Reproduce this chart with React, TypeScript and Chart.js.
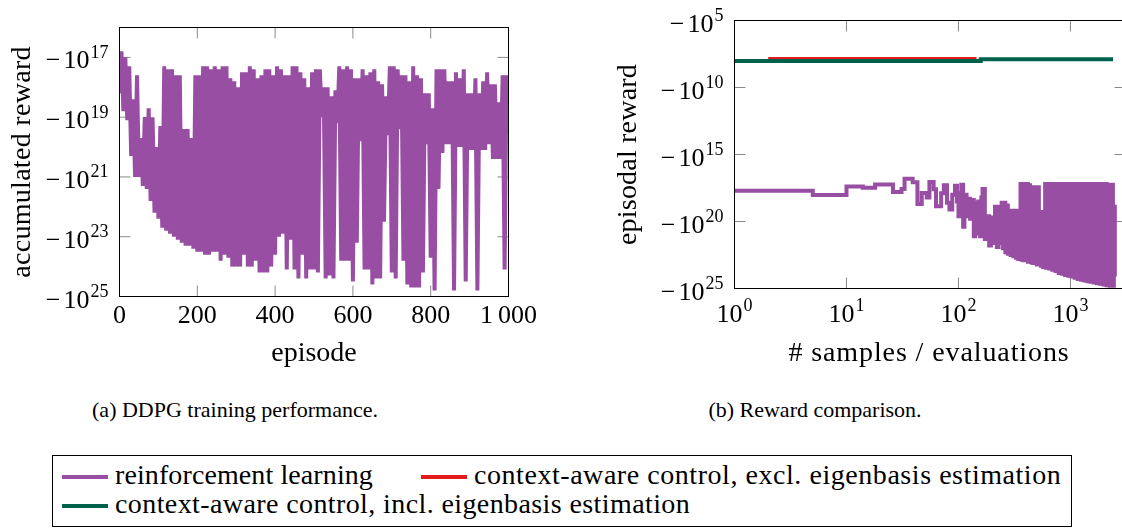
import React, { useEffect, useRef } from "react";
import { Chart, registerables } from "chart.js";

Chart.register(...registerables);

const FONT = '"Liberation Serif", "Times New Roman", serif';
const PURPLE = "#984ea3";
const RED = "#e41a1c";
const GREEN = "#00614c";

// ---------------- (a) DDPG training performance ----------------
// log10 of |accumulated reward| (the reward itself is negative), one value every 5 episodes
const EPISODE_STEP = 5;
const rlRewardEp000 = [
  18.2, 16.8, 18.8, 17.0, 19.1, 17.3, 20.3, 18.4, 21.0, 17.6,
  21.0, 19.7, 21.3, 19.0, 21.4, 18.7, 21.8, 19.0, 22.2, 20.0,
  22.4, 19.3, 22.7, 17.3, 22.8, 17.4, 22.9, 17.4, 23.0, 17.6,
  23.1, 17.6, 23.2, 19.4, 23.3, 19.4, 23.3, 19.7, 23.4, 17.6,
];
const rlRewardEp200 = [
  23.5, 17.6, 23.5, 17.3, 23.6, 17.3, 23.6, 17.4, 23.5, 17.3,
  23.5, 17.4, 23.8, 17.3, 23.6, 17.3, 23.7, 17.7, 24.0, 17.8,
  24.0, 18.0, 24.0, 17.5, 23.6, 17.5, 24.0, 17.3, 24.0, 17.4,
  23.8, 17.7, 24.2, 17.6, 24.2, 17.4, 24.2, 17.4, 24.0, 17.6,
];
const rlRewardEp400 = [
  23.6, 17.3, 23.0, 17.4, 22.9, 17.6, 24.1, 17.6, 23.1, 17.3,
  24.1, 17.3, 24.4, 17.5, 23.6, 17.7, 24.4, 18.0, 24.1, 17.5,
  24.1, 17.4, 24.2, 17.4, 19.0, 18.0, 24.4, 18.0, 24.3, 18.3,
  24.4, 18.1, 19.2, 17.3, 23.8, 17.4, 23.8, 17.3, 23.8, 17.4,
];
const rlRewardEp600 = [
  24.5, 17.7, 23.2, 17.7, 19.8, 17.4, 24.1, 17.6, 24.1, 17.5,
  24.6, 17.4, 24.4, 17.8, 24.4, 17.9, 22.5, 18.3, 19.6, 17.3,
  24.2, 17.3, 24.4, 17.4, 19.4, 17.6, 23.8, 17.6, 24.6, 17.8,
  24.7, 17.3, 24.7, 17.6, 24.7, 17.7, 24.2, 18.2, 19.9, 18.2,
];
const rlRewardEp800 = [
  23.7, 18.7, 24.8, 17.4, 21.4, 17.4, 20.2, 17.4, 19.9, 17.8,
  19.9, 17.8, 24.8, 17.5, 20.0, 17.7, 20.0, 17.4, 24.5, 18.2,
  20.1, 18.2, 20.1, 17.7, 24.8, 18.2, 20.1, 17.8, 20.1, 17.5,
  19.9, 17.9, 20.4, 17.9, 20.4, 18.5, 20.4, 17.6, 24.1, 17.6,
  19.6,
];
const rlAccumulatedLog = [
  ...rlRewardEp000, ...rlRewardEp200, ...rlRewardEp400, ...rlRewardEp600, ...rlRewardEp800,
];
const aXTicks = [0, 200, 400, 600, 800, 1000];
const aXTickLabels = ["0", "200", "400", "600", "800", "1\u2009000"];
const aYTickExps = [17, 19, 21, 23, 25];

// ---------------- (b) Reward comparison ----------------
// log10 of |episodal reward| against number of samples / evaluations (step plot)
const rlSamples = [
  1, 5, 10, 14, 18, 26, 31, 33, 39, 43,
  47, 52, 55, 60, 63, 70, 74, 79, 83, 88,
  93, 97, 100, 103, 106, 110, 113, 118, 121, 127,
  131, 137, 141, 146, 150, 156, 160, 164, 172, 180,
  188, 195, 205, 212, 220, 228, 236, 243, 250, 256,
  262, 269, 276, 283, 292, 300, 310, 318, 326, 334,
  342, 350, 358, 366, 374, 382, 390, 399, 408, 417,
  426, 435, 444, 452, 461, 470, 480, 490, 500, 511,
  522, 534, 546, 558, 570, 582, 594, 606, 625, 645,
  665, 688, 710, 735, 760, 785, 810, 838, 866, 895,
  925, 956, 988, 1020, 1055, 1090, 1126, 1163, 1202, 1242,
  1284, 1327, 1371, 1417, 1464, 1513, 1563, 1615, 1669, 1725,
  1782, 1842, 1903, 1967, 2032, 2100, 2170, 2242, 2317, 2394,
  2440, 2490,
];
const rlEpisodalLog = [
  17.70, 18.02, 17.38, 17.48, 17.23, 17.80, 17.58, 16.81, 17.08, 18.69,
  17.87, 18.20, 17.05, 17.60, 18.87, 17.90, 17.30, 18.60, 19.11, 18.00,
  17.33, 18.50, 19.60, 17.90, 17.25, 20.40, 18.00, 19.60, 18.30, 19.80,
  18.40, 21.10, 18.60, 20.90, 18.50, 21.10, 18.20, 17.57, 21.30, 19.60,
  21.80, 19.70, 21.60, 18.90, 21.90, 18.90, 21.60, 18.60, 22.00, 18.60,
  22.30, 18.80, 22.40, 19.20, 22.50, 19.20, 22.60, 19.30, 22.70, 19.20,
  22.80, 19.40, 17.20, 22.85, 17.20, 22.90, 17.25, 22.90, 17.20, 23.00,
  17.30, 19.50, 23.05, 17.45, 23.10, 17.45, 23.10, 17.45, 23.20, 17.45,
  23.20, 19.30, 23.30, 19.30, 23.40, 19.30, 17.20, 23.45, 17.20, 23.50,
  17.20, 23.60, 17.20, 23.70, 17.20, 23.85, 17.20, 23.90, 17.20, 24.00,
  17.20, 24.05, 17.20, 24.10, 17.20, 24.20, 17.20, 24.30, 17.20, 24.35,
  17.20, 24.40, 17.20, 24.45, 17.20, 24.50, 17.20, 24.55, 17.20, 24.60,
  17.20, 24.65, 17.20, 24.70, 17.20, 24.75, 17.25, 24.80, 17.25, 24.80,
  18.90, 24.10,
];
const exclSamples = [2, 145];
const exclEpisodalLog = [7.88, 7.88];
const inclSamples = [1, 158, 2400];
const inclEpisodalLog = [8.03, 7.9, 7.9];
const bXTickExps = [0, 1, 2, 3];
const bYTickExps = [5, 10, 15, 20, 25];

// ---------------- text / styling ----------------
const TICK_PX = 26;
const SUP_PX = 18;
const SUP_RAISE = 10.5;
const MINUS_GAP = 3;
const SUP_GAP = 1;
const TITLE_PX = 28;
const TICK_LEN = 11;

type Pow = { minus?: boolean; base: string; sup?: string };

function drawPow(ctx: CanvasRenderingContext2D, p: Pow, x: number, baseline: number, align: "right" | "center") {
  const baseFont = `${TICK_PX}px ${FONT}`;
  const supFont = `${SUP_PX}px ${FONT}`;
  ctx.font = baseFont;
  const mW = p.minus ? ctx.measureText("\u2212").width + MINUS_GAP : 0;
  const bW = ctx.measureText(p.base).width;
  ctx.font = supFont;
  const sW = p.sup ? ctx.measureText(p.sup).width + SUP_GAP : 0;
  const total = mW + bW + sW;
  const x0 = align === "right" ? x - total : x - total / 2;
  ctx.textAlign = "left";
  ctx.textBaseline = "alphabetic";
  ctx.fillStyle = "#000";
  ctx.font = baseFont;
  if (p.minus) ctx.fillText("\u2212", x0, baseline);
  ctx.fillText(p.base, x0 + mW, baseline);
  if (p.sup) {
    ctx.font = supFont;
    ctx.fillText(p.sup, x0 + mW + bW + SUP_GAP, baseline - SUP_RAISE);
  }
}

type AxisSpec = {
  xTicks: number[];
  xLabels: Pow[];
  xTickBaseline: number;
  yTicks: number[];
  yLabels: Pow[];
  xTitle: string;
  xTitleBaseline: number;
  xTitleCenter: number;
  xTitleSpacing: number;
  yTitle: string;
  yTitleX: number;
  yTitleSpacing: number;
};

function pgfAxes(spec: AxisSpec) {
  return {
    id: "pgfAxes",
    beforeDatasetsDraw(chart: any) {
      const { ctx, chartArea: a, scales } = chart;
      ctx.save();
      ctx.strokeStyle = "#8a8a8a";
      ctx.lineWidth = 1;
      ctx.beginPath();
      spec.yTicks.forEach((v) => {
        const y = scales.y.getPixelForValue(v);
        ctx.moveTo(a.left, y);
        ctx.lineTo(a.left + TICK_LEN, y);
        ctx.moveTo(a.right, y);
        ctx.lineTo(a.right - TICK_LEN, y);
      });
      spec.xTicks.forEach((v) => {
        const x = scales.x.getPixelForValue(v);
        ctx.moveTo(x, a.bottom);
        ctx.lineTo(x, a.bottom - TICK_LEN);
        ctx.moveTo(x, a.top);
        ctx.lineTo(x, a.top + TICK_LEN);
      });
      ctx.stroke();
      ctx.restore();
    },
    afterDatasetsDraw(chart: any) {
      const { ctx, chartArea: a, scales } = chart;
      ctx.save();
      ctx.strokeStyle = "#000";
      ctx.lineWidth = 1;
      ctx.strokeRect(a.left, a.top, a.right - a.left, a.bottom - a.top);
      spec.yTicks.forEach((v, i) => {
        const y = scales.y.getPixelForValue(v);
        drawPow(ctx, spec.yLabels[i], a.left - 11, y + 11, "right");
      });
      spec.xTicks.forEach((v, i) => {
        const x = scales.x.getPixelForValue(v);
        drawPow(ctx, spec.xLabels[i], x, a.bottom + spec.xTickBaseline, "center");
      });
      ctx.font = `${TITLE_PX}px ${FONT}`;
      ctx.fillStyle = "#000";
      ctx.textAlign = "center";
      ctx.textBaseline = "alphabetic";
      (ctx as any).letterSpacing = `${spec.xTitleSpacing}px`;
      ctx.fillText(spec.xTitle, spec.xTitleCenter, spec.xTitleBaseline);
      (ctx as any).letterSpacing = `${spec.yTitleSpacing}px`;
      ctx.translate(spec.yTitleX, (a.top + a.bottom) / 2);
      ctx.rotate(-Math.PI / 2);
      ctx.fillText(spec.yTitle, 0, 0);
      ctx.restore();
    },
  };
}

const baseOptions = {
  responsive: false,
  animation: false as const,
  devicePixelRatio: 1,
  events: [] as any[],
  plugins: { legend: { display: false }, tooltip: { enabled: false } },
};

function leftConfig(): any {
  return {
    type: "line",
    data: {
      datasets: [
        {
          data: rlAccumulatedLog.map((v, i) => ({ x: i * EPISODE_STEP, y: v })),
          borderColor: PURPLE,
          borderWidth: 4,
          pointRadius: 0,
          tension: 0,
          fill: false,
          clip: 0,
        },
      ],
    },
    options: {
      ...baseOptions,
      layout: { padding: { left: 119.5, top: 27.5, right: 560 - 508.5, bottom: 380 - 296.5 } },
      scales: {
        x: { type: "linear", min: 0, max: 1000, display: false },
        y: { type: "linear", min: 16, max: 25, reverse: true, display: false },
      },
    },
    plugins: [
      pgfAxes({
        xTicks: aXTicks,
        xLabels: aXTickLabels.map((s) => ({ base: s })),
        xTickBaseline: 26.8,
        yTicks: aYTickExps,
        yLabels: aYTickExps.map((e) => ({ minus: true, base: "10", sup: String(e) })),
        xTitle: "episode",
        xTitleBaseline: 361,
        xTitleCenter: 314,
        xTitleSpacing: 0,
        yTitle: "accumulated reward",
        yTitleX: 30,
        yTitleSpacing: 0.3,
      }),
    ],
  };
}

function rightConfig(): any {
  const pts = (xs: number[], ys: number[]) => xs.map((x, i) => ({ x, y: ys[i] }));
  return {
    type: "line",
    data: {
      datasets: [
        { data: pts(inclSamples, inclEpisodalLog), borderColor: GREEN, borderWidth: 4, pointRadius: 0, stepped: "before", clip: 0, order: 0 },
        { data: pts(exclSamples, exclEpisodalLog), borderColor: RED, borderWidth: 4, pointRadius: 0, stepped: "before", clip: 0, order: 1 },
        { data: pts(rlSamples, rlEpisodalLog), borderColor: PURPLE, borderWidth: 4, pointRadius: 0, stepped: "before", clip: 0, order: 2 },
      ],
    },
    options: {
      ...baseOptions,
      layout: { padding: { left: 174.5, top: 20.5, right: 570 - 565.5, bottom: 380 - 288.5 } },
      scales: {
        x: { type: "logarithmic", min: 1, max: 3100, display: false },
        y: { type: "linear", min: 5, max: 25, reverse: true, display: false },
      },
    },
    plugins: [
      pgfAxes({
        xTicks: bXTickExps.map((e) => Math.pow(10, e)),
        xLabels: bXTickExps.map((e) => ({ base: "10", sup: String(e) })),
        xTickBaseline: 33.3,
        yTicks: bYTickExps,
        yLabels: bYTickExps.map((e) => ({ minus: true, base: "10", sup: String(e) })),
        xTitle: "# samples / evaluations",
        xTitleBaseline: 361,
        xTitleCenter: 929 - 560,
        xTitleSpacing: 0.9,
        yTitle: "episodal reward",
        yTitleX: 75.5,
        yTitleSpacing: 0.2,
      }),
    ],
  };
}

const legendRow1 = 484;
const legendRow2 = 513;

function LegendLine({ x, y, color }: { x: number; y: number; color: string }) {
  return <div style={{ position: "absolute", left: x, top: y - 2, width: 46, height: 4, background: color }} />;
}

function Txt({ x, baseline, size, children, center, spacing }: { x: number; baseline: number; size: number; children: any; center?: boolean; spacing?: number }) {
  const top = baseline - (size * 0.891 + (size - size * 1.107) / 2);
  return (
    <div
      style={{
        position: "absolute",
        left: x,
        top,
        fontSize: size,
        lineHeight: `${size}px`,
        whiteSpace: "nowrap",
        letterSpacing: spacing ? `${spacing}px` : undefined,
        transform: center ? "translateX(-50%)" : undefined,
        color: "#000",
      }}
    >
      {children}
    </div>
  );
}

export default function App() {
  const leftRef = useRef<HTMLCanvasElement>(null);
  const rightRef = useRef<HTMLCanvasElement>(null);
  useEffect(() => {
    const a = new Chart(leftRef.current as HTMLCanvasElement, leftConfig());
    const b = new Chart(rightRef.current as HTMLCanvasElement, rightConfig());
    return () => {
      a.destroy();
      b.destroy();
    };
  }, []);
  return (
    <div style={{ position: "fixed", left: 0, top: 0, width: 1122, height: 529, overflow: "hidden", background: "#fff", fontFamily: FONT }}>
      <canvas ref={leftRef} width={560} height={380} style={{ position: "absolute", left: 0, top: 0 }} />
      <canvas ref={rightRef} width={570} height={380} style={{ position: "absolute", left: 560, top: 0 }} />
      <Txt x={235} baseline={417} size={22} center>(a) DDPG training performance.</Txt>
      <Txt x={815} baseline={417} size={22} center>(b) Reward comparison.</Txt>
      <div style={{ position: "absolute", left: 52, top: 455, width: 1020, height: 72, border: "1px solid #000", boxSizing: "border-box" }} />
      <LegendLine x={62} y={legendRow1 - 7} color={PURPLE} />
      <Txt x={115} baseline={legendRow1} size={TITLE_PX} spacing={0.1}>reinforcement learning</Txt>
      <LegendLine x={421} y={legendRow1 - 7} color={RED} />
      <Txt x={474} baseline={legendRow1} size={TITLE_PX} spacing={0.55}>context-aware control, excl. eigenbasis estimation</Txt>
      <LegendLine x={62} y={legendRow2 - 7} color={GREEN} />
      <Txt x={115} baseline={legendRow2} size={TITLE_PX} spacing={0.4}>context-aware control, incl. eigenbasis estimation</Txt>
    </div>
  );
}
